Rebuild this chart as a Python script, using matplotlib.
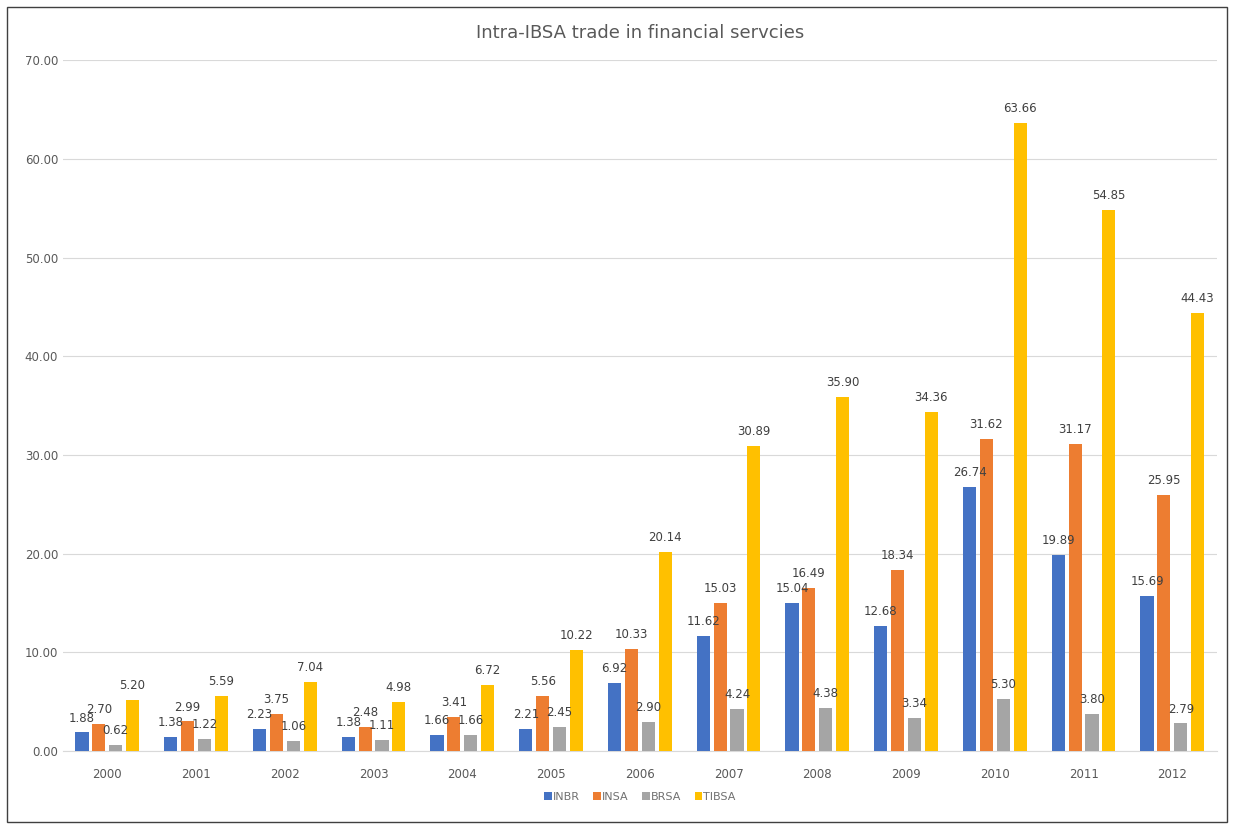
import numpy as np
import matplotlib
matplotlib.use('Agg')
import matplotlib.pyplot as plt
from matplotlib.patches import Rectangle

years = ['2000', '2001', '2002', '2003', '2004', '2005', '2006',
         '2007', '2008', '2009', '2010', '2011', '2012']
inbr = [1.88, 1.38, 2.23, 1.38, 1.66, 2.21, 6.92, 11.62, 15.04, 12.68, 26.74, 19.89, 15.69]
insa = [2.70, 2.99, 3.75, 2.48, 3.41, 5.56, 10.33, 15.03, 16.49, 18.34, 31.62, 31.17, 25.95]
brsa = [0.62, 1.22, 1.06, 1.11, 1.66, 2.45, 2.90, 4.24, 4.38, 3.34, 5.30, 3.80, 2.79]
tibsa = [5.20, 5.59, 7.04, 4.98, 6.72, 10.22, 20.14, 30.89, 35.90, 34.36, 63.66, 54.85, 44.43]

series = [('INBR', inbr, '#4472C4'), ('INSA', insa, '#ED7D31'),
          ('BRSA', brsa, '#A5A5A5'), ('TIBSA', tibsa, '#FFC000')]

fig = plt.figure(figsize=(12.34, 8.24), dpi=100)
ax = fig.add_axes([0.051, 0.0886, 0.935, 0.838])

x = np.arange(len(years))
w = 0.148
step = 0.19
for i, (name, vals, col) in enumerate(series):
    pos = x + (i - 1.5) * step
    bars = ax.bar(pos, vals, w, color=col, label=name, zorder=3)
    for b, v in zip(bars, vals):
        ax.text(b.get_x() + b.get_width() / 2, v + 0.8, f'{v:.2f}',
                ha='center', va='bottom', fontsize=8.5, color='#404040', zorder=4)

ax.set_ylim(0, 70)
ax.set_xlim(-0.5, len(years) - 0.5)
ax.set_yticks(np.arange(0, 71, 10))
ax.set_yticklabels([f'{v:.2f}' for v in np.arange(0, 71, 10)])
ax.set_xticks(x)
ax.set_xticklabels(years)
ax.tick_params(axis='both', length=0, labelsize=8.5, colors='#595959')
ax.tick_params(axis='x', pad=12)
ax.grid(axis='y', color='#D9D9D9', linewidth=0.8, zorder=0)
for s in ['top', 'right', 'left']:
    ax.spines[s].set_visible(False)
ax.spines['bottom'].set_color('#D9D9D9')

ax.set_title('Intra-IBSA trade in financial servcies', fontsize=13, color='#595959', pad=16)

ax.legend(loc='upper center', bbox_to_anchor=(0.5, -0.045), ncol=4, frameon=False,
          fontsize=8, handlelength=0.7, handleheight=0.7, handletextpad=0.1,
          columnspacing=1.2, labelcolor='#707070')

fig.patches.append(Rectangle((0.006, 0.003), 0.988, 0.988, transform=fig.transFigure,
                             fill=False, edgecolor='#404040', linewidth=1.0))

fig.savefig('out.png', dpi=100)
